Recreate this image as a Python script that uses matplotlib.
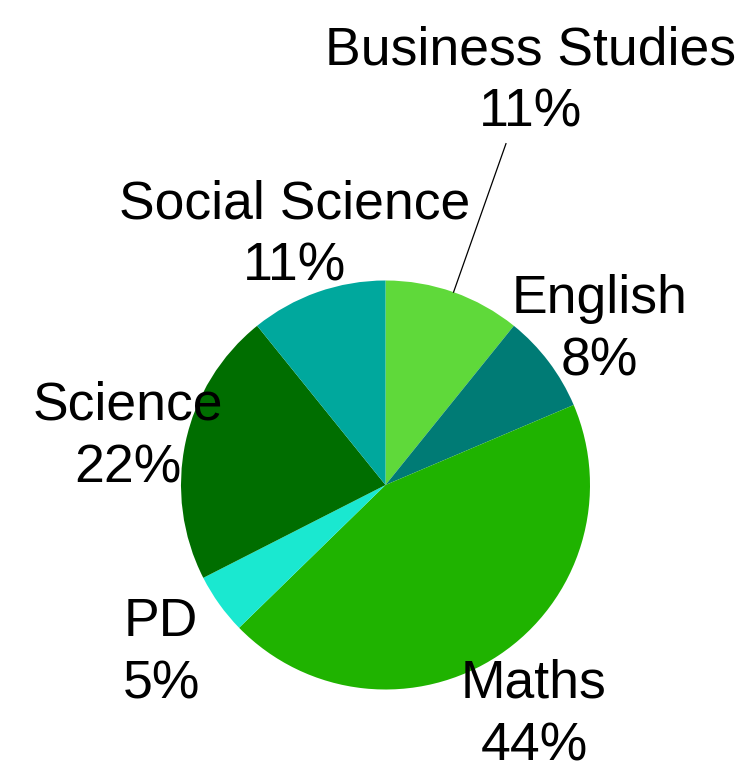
import numpy as np
import matplotlib
matplotlib.use("Agg")
import matplotlib.pyplot as plt

plt.rcParams["font.family"] = ["Liberation Sans", "DejaVu Sans"]

# -----------------------------------
# DATA
# -----------------------------------

subjects = ["Business Studies", "English", "Maths", "PD", "Science", "Social Science"]
shares = [10.8, 7.8, 44.1, 4.8, 21.7, 10.8]
colors = ["#5fd93a", "#007b75", "#1fb300", "#1ae8d0", "#006e00", "#00a89d"]

# label distance (in radii) from the centre, per wedge
label_dist = [2.13, 1.31, 1.31, 1.35, 1.29, 1.33]

# -----------------------------------
# PLOT
# -----------------------------------

fig = plt.figure(figsize=(7.44, 7.67), dpi=100)
ax = fig.add_axes([0, 0, 1, 1])

wedges, _ = ax.pie(
    shares,
    colors=colors,
    startangle=90,
    counterclock=False,
    radius=1,
    wedgeprops={"linewidth": 0},
)

# centre at (385.5, 485) px, radius 204.5 px
r_px = 204.5
y_shift = -7 / r_px   # small downward nudge for the two-line labels

total = sum(shares)
for w, name, val, d in zip(wedges, subjects, shares, label_dist):
    mid = np.deg2rad((w.theta1 + w.theta2) / 2)
    x, y = np.cos(mid), np.sin(mid)
    ax.text(
        d * x, d * y + y_shift,
        f"{name}\n{round(val / total * 100)}%",
        ha="center", va="center", multialignment="center",
        fontsize=38.5, linespacing=1.32, color="black",
    )
    if d > 1.6:
        # leader line for the label that sits far out
        ax.plot([1.0 * x, 1.77 * x], [1.0 * y, 1.77 * y],
                color="black", linewidth=0.9)

ax.set_xlim(-385.5 / r_px, (744 - 385.5) / r_px)
ax.set_ylim(-(767 - 485) / r_px, 485 / r_px)
ax.set_aspect("auto")
ax.axis("off")

fig.savefig("out.png", dpi=100)
